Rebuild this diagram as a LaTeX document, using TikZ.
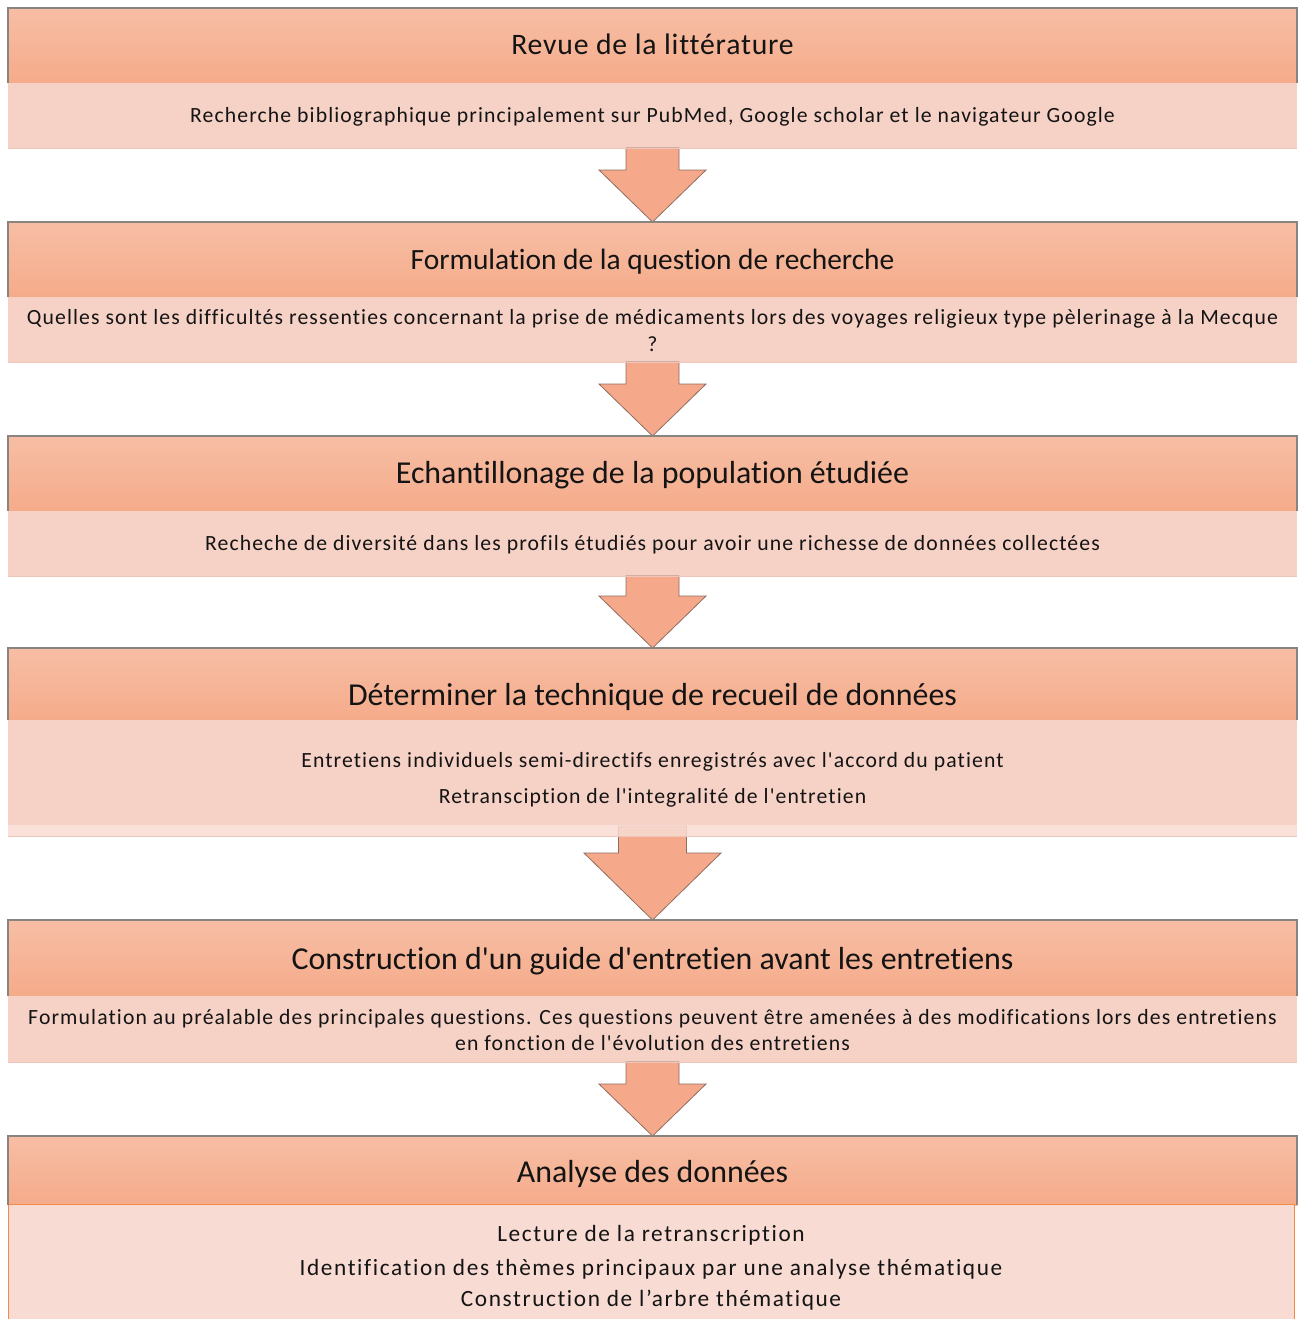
\documentclass[tikz,border=0pt]{standalone}
\usepackage{fontspec}
\newfontfamily\calfont{Carlito}[Ligatures=NoCommon]
\usetikzlibrary{calc}
\definecolor{hdtop}{HTML}{F7BEA5}
\definecolor{hdbot}{HTML}{F5AB8A}
\definecolor{bodyc}{HTML}{F6D1C6}
\definecolor{bodyl}{HTML}{F8DCD4}
\definecolor{bodyedge}{HTML}{F0C6BA}
\definecolor{arrowc}{HTML}{F5A98A}
\definecolor{arrowedge}{HTML}{8E6D60}
\definecolor{hdedge}{HTML}{8A8480}
\definecolor{orangeedge}{HTML}{F38A46}
\definecolor{txt}{HTML}{141414}
\tikzset{
  header/.style={anchor=north west, inner sep=0pt, outer sep=0pt, minimum width=1289pt, minimum height=#1, top color=hdtop, bottom color=hdbot},
  bodybox/.style={anchor=north west, inner sep=0pt, outer sep=0pt, minimum width=1289pt, minimum height=#1, fill=bodyc},
  htextA/.style={anchor=base, inner sep=0pt, text=txt, font=\calfont\fontsize{29.7}{30}\selectfont\addfontfeatures{LetterSpace=2.7}},
  htextA2/.style={anchor=base, inner sep=0pt, text=txt, font=\calfont\fontsize{29.4}{30}\selectfont},
  htextB/.style={anchor=base, inner sep=0pt, text=txt, font=\calfont\fontsize{31.9}{32}\selectfont},
  btext/.style={anchor=base, inner sep=0pt, text=txt, font=\calfont\fontsize{21.7}{22}\selectfont\addfontfeatures{LetterSpace=5.1}},
  btextL/.style={anchor=base, inner sep=0pt, text=txt, font=\calfont\fontsize{23.3}{24}\selectfont\addfontfeatures{LetterSpace=6.9}},
  flowarr/.style={fill=arrowc, draw=arrowedge, line width=0.8pt, line join=miter},
  hdline/.style={draw=hdedge, line width=1.2pt},
}
% #1 top node anchor, #2 tip node anchor, #3 shaft half width, #4 head half width, #5 head length
\newcommand\flowarrow[5]{%
  \path let \p1=(#1), \p2=(#2) in [flowarr]
    (\x2-#3,\y1) -- (\x2+#3,\y1) -- (\x2+#3,\y2+#5) -- (\x2+#4,\y2+#5)
    -- (\x2,\y2) -- (\x2-#4,\y2+#5) -- (\x2-#3,\y2+#5) -- cycle;}
\newcommand\hdborder[1]{\draw[hdline] (#1.south west) -- (#1.north west) -- (#1.north east) -- (#1.south east);}
\begin{document}
\begin{tikzpicture}[x=1pt,y=-1pt]
\useasboundingbox (0,0) rectangle (1303,1319);
\clip (0,0) rectangle (1303,1319);
\fill[white] (0,0) rectangle (1303,1319);

% boxes
\node[header=75pt] (h1) at (8,8) {};
\node[bodybox=65pt] (b1) at (8,83) {};
\node[header=75pt] (h2) at (8,222) {};
\node[bodybox=65pt] (b2) at (8,297) {};
\node[header=75pt] (h3) at (8,436) {};
\node[bodybox=65pt] (b3) at (8,511) {};
\node[header=72pt] (h4) at (8,648) {};
\node[header=76pt] (h5) at (8,920) {};
\node[bodybox=66pt] (b5) at (8,996) {};
\node[header=69pt] (h6) at (8,1136) {};

% arrows
\flowarrow{b1.south}{h2.north}{26.5pt}{53.5pt}{52pt}
\flowarrow{b2.south}{h3.north}{26.5pt}{53.5pt}{52pt}
\flowarrow{b3.south}{h4.north}{26.5pt}{53.5pt}{52pt}
\coordinate (a4top) at (652.5,826);
\flowarrow{a4top}{h5.north}{34pt}{68.5pt}{67pt}
\flowarrow{b5.south}{h6.north}{26.5pt}{53.5pt}{52pt}

% box 4 body and light strip (drawn over the arrow top)
\node[bodybox=105pt] (b4) at (8,720) {};
\node[anchor=north west, inner sep=0pt, outer sep=0pt, minimum width=1289pt, minimum height=11pt, fill=bodyl, fill opacity=0.85] (s4) at (8,825) {};

% box 6 body
\node[anchor=north west, inner sep=0pt, outer sep=0pt, minimum width=1286pt, minimum height=130pt, fill=bodyl, draw=orangeedge, line width=1pt] (b6) at (8,1204.5) {};

% body bottom edges
\foreach \b in {b1,b2,b3,s4,b5}{\draw[bodyedge, line width=0.8pt] (\b.south west) -- (\b.south east);}

% header borders
\hdborder{h1}\hdborder{h2}\hdborder{h3}\hdborder{h4}\hdborder{h5}\hdborder{h6}

% texts
\node[htextA] (t1) at (652.5,54.3) {Revue de la littérature};
\node[btext] (u1) at (652.5,122.3) {Recherche bibliographique principalement sur PubMed, Google scholar et le navigateur Google};
\node[htextA2] (t2) at (652.5,269.3) {Formulation de la question de recherche};
\node[btext] (u2) at (652.5,324.3) {Quelles sont les difficultés ressenties concernant la prise de médicaments lors des voyages religieux type pèlerinage à la Mecque};
\node[btext] (u2b) at (652.5,351) {?};
\node[htextB] (t3) at (652.5,483) {Echantillonage de la population étudiée};
\node[btext] (u3) at (652.5,550.3) {Recheche de diversité dans les profils étudiés pour avoir une richesse de données collectées};
\node[htextB] (t4) at (652.5,705) {Déterminer la technique de recueil de données};
\node[btext] (u4) at (652.5,767.3) {Entretiens individuels semi-directifs enregistrés avec l'accord du patient};
\node[btext] (u4b) at (652.5,803.3) {Retransciption de l'integralité de l'entretien};
\node[htextB] (t5) at (652.5,969) {Construction d'un guide d'entretien avant les entretiens};
\node[btext] (u5) at (652.5,1024.3) {Formulation au préalable des principales questions. Ces questions peuvent être amenées à des modifications lors des entretiens};
\node[btext] (u5b) at (652.5,1050.3) {en fonction de l'évolution des entretiens};
\node[htextB] (t6) at (652.5,1182) {Analyse des données};
\node[btextL] (u6) at (651,1241.7) {Lecture de la retranscription};
\node[btextL] (u6b) at (651,1275) {Identification des thèmes principaux par une analyse thématique};
\node[btextL] (u6c) at (651,1306.7) {Construction de l’arbre thématique};
\end{tikzpicture}
\end{document}
